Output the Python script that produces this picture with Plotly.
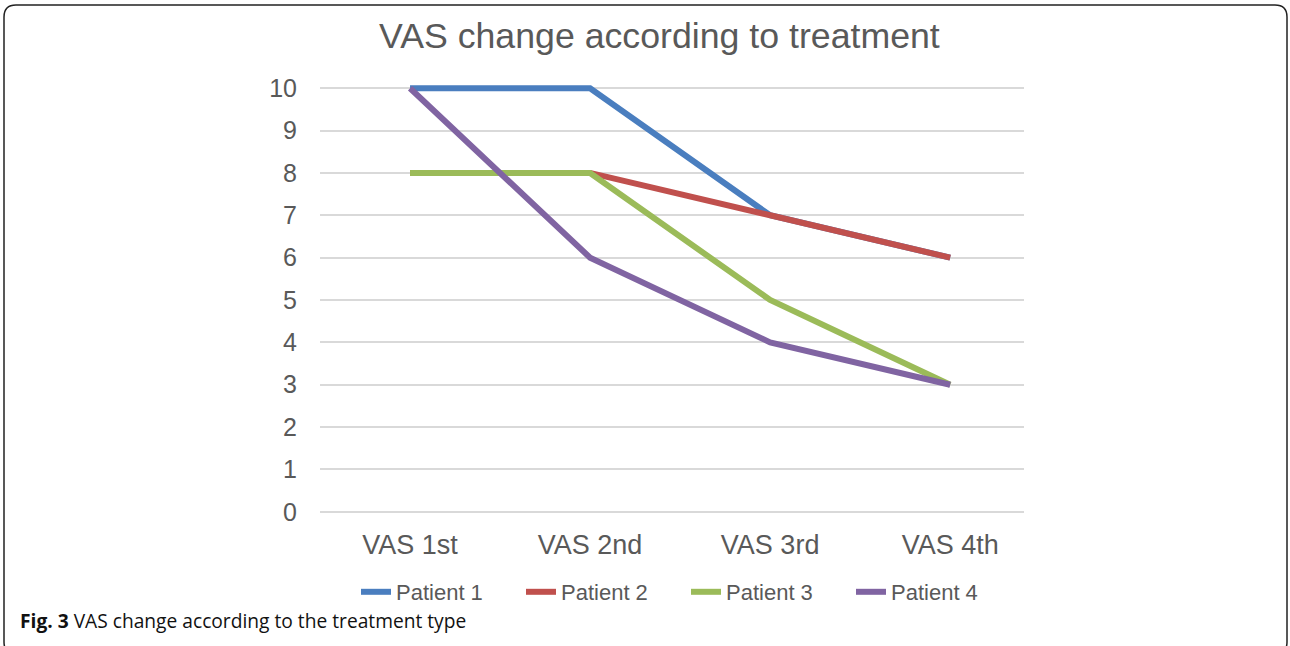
import plotly.graph_objects as go

# ---- data ----
categories = ["VAS 1st", "VAS 2nd", "VAS 3rd", "VAS 4th"]
patient_names = ["Patient 1", "Patient 2", "Patient 3", "Patient 4"]
patient_1 = [10, 10, 7, 6]
patient_2 = [8, 8, 7, 6]
patient_3 = [8, 8, 5, 3]
patient_4 = [10, 6, 4, 3]
y_ticks = list(range(0, 11))
title_text = "VAS change according to treatment"
caption_bold = "Fig. 3"
caption_text = "VAS change according to the treatment type"

series = [patient_1, patient_2, patient_3, patient_4]
colors = ["#4A7EBF", "#C0504D", "#9BBB59", "#8064A2"]

W, H = 1290, 646
L, R, T, B = 320, 1024, 84, 516


def px_x(px):
    return (px - L) / (R - L)


def px_y(py):
    return (B - py) / (B - T)


fig = go.Figure()
for name, vals, col in zip(patient_names, series, colors):
    fig.add_trace(go.Scatter(
        x=categories, y=vals, name=name, mode="lines",
        line=dict(color=col, width=6),
    ))

txt = "#595959"
arial = "Liberation Sans, Arial, sans-serif"

fig.update_layout(
    width=W, height=H,
    margin=dict(l=L, r=W - R, t=T, b=H - B, pad=0),
    paper_bgcolor="white", plot_bgcolor="white",
    font=dict(family=arial, color=txt),
    showlegend=True,
    legend=dict(
        orientation="h", x=px_x(356), xanchor="left",
        y=px_y(592), yanchor="middle",
        font=dict(size=22, color=txt, family=arial),
        entrywidth=120, itemwidth=30,
        bgcolor="rgba(0,0,0,0)",
    ),
    xaxis=dict(
        type="category", range=[-0.5, 3.41],
        showgrid=False, zeroline=False, showline=False,
        ticks="", tickfont=dict(size=27, color=txt, family=arial),
        ticklabelstandoff=10,
    ),
    yaxis=dict(
        range=[-0.1, 10.1], tickvals=y_ticks,
        showgrid=True, gridcolor="#D9D9D9", gridwidth=2,
        zeroline=False, showline=False, ticks="",
        tickfont=dict(size=25, color=txt, family=arial),
        ticklabelstandoff=22,
    ),
)

# title
fig.add_annotation(
    text=title_text, xref="paper", yref="paper",
    x=px_x(659), y=px_y(36), xanchor="center", yanchor="middle",
    showarrow=False, font=dict(size=35.7, color=txt, family=arial),
)

# caption
fig.add_annotation(
    text=f"<b>{caption_bold}</b> {caption_text}", xref="paper", yref="paper",
    x=px_x(18), y=px_y(620), xanchor="left", yanchor="middle",
    showarrow=False, font=dict(size=19.2, color="#111111", family="Open Sans, Noto Sans, sans-serif"),
)

# rounded border
x0, x1, y0, y1, r = 4, 1287, 5, 654, 12
pts = [
    ("M", [(x0 + r, y0)]),
    ("L", [(x1 - r, y0)]),
    ("Q", [(x1, y0), (x1, y0 + r)]),
    ("L", [(x1, y1 - r)]),
    ("Q", [(x1, y1), (x1 - r, y1)]),
    ("L", [(x0 + r, y1)]),
    ("Q", [(x0, y1), (x0, y1 - r)]),
    ("L", [(x0, y0 + r)]),
    ("Q", [(x0, y0), (x0 + r, y0)]),
]
path = ""
for cmd, ps in pts:
    path += cmd + " ".join(f"{px_x(a):.5f},{px_y(b):.5f}" for a, b in ps) + " "
path += "Z"
fig.add_shape(type="path", path=path, xref="paper", yref="paper",
              line=dict(color="#222222", width=1.5), fillcolor="rgba(0,0,0,0)",
              layer="above")

fig.write_html("out.html", config={"displayModeBar": False},
               post_script="document.body.style.margin='0';")
